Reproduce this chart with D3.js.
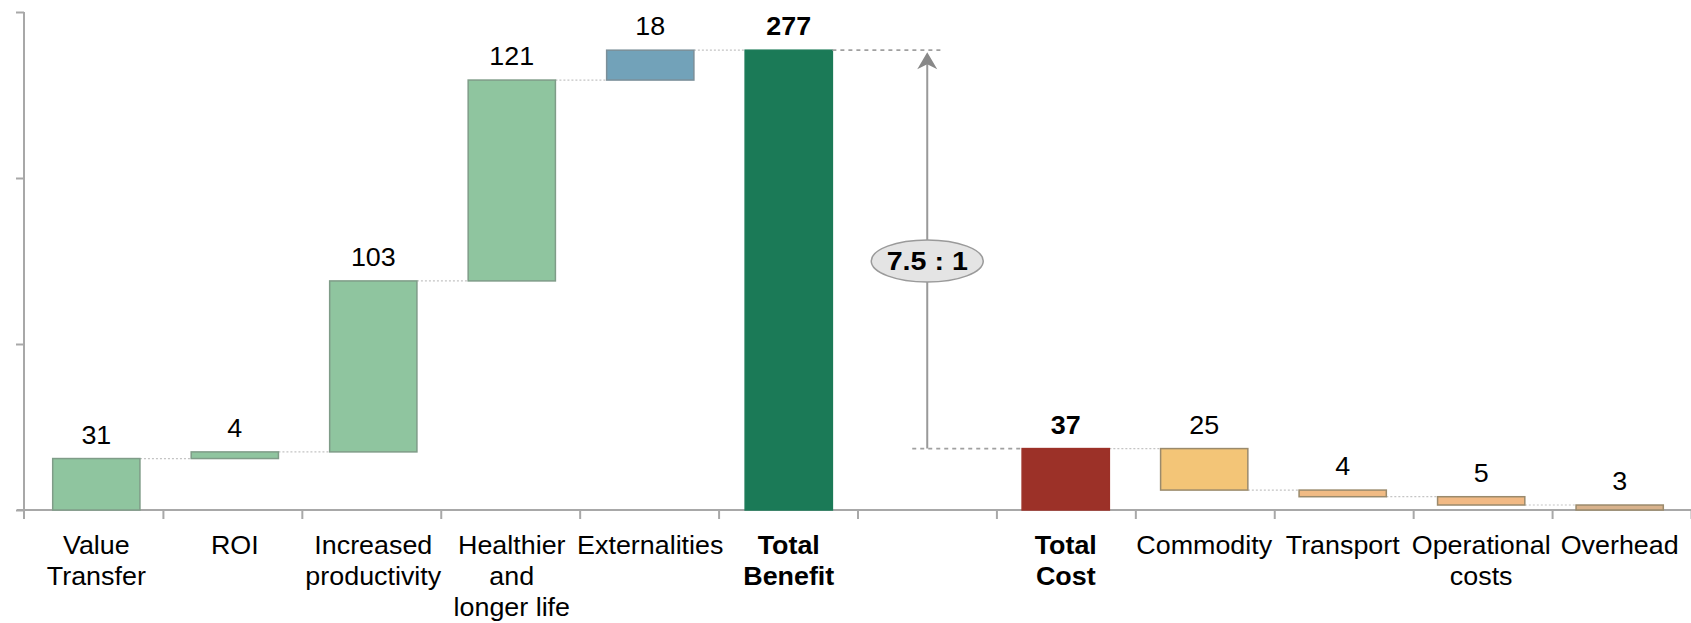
<!DOCTYPE html>
<html>
<head>
<meta charset="utf-8">
<script src="https://cdn.jsdelivr.net/npm/d3@7"></script>
<style>
  html, body { margin: 0; padding: 0; background: #ffffff; }
  svg { display: block; font-family: "Liberation Sans", Arial, sans-serif; }
</style>
</head>
<body>
<svg id="chart" width="1691" height="623"></svg>
<script>
// Cost-benefit waterfall: benefits build up to a total, costs step down from theirs.
const categories = [
  ["Value", "Transfer"],
  ["ROI"],
  ["Increased", "productivity"],
  ["Healthier", "and", "longer life"],
  ["Externalities"],
  ["Total", "Benefit"],
  [],
  ["Total", "Cost"],
  ["Commodity"],
  ["Transport"],
  ["Operational", "costs"],
  ["Overhead"]
];
const values = [31, 4, 103, 121, 18, 277, null, 37, 25, 4, 5, 3];
// "up" adds to the running total, "total" stands on the baseline, "down" subtracts
const kinds = ["up", "up", "up", "up", "up", "total", "blank", "total", "down", "down", "down", "down"];
const fills = ["#8fc59f", "#8fc59f", "#8fc59f", "#8fc59f", "#72a2b9", "#1b7a57", null,
               "#9c3128", "#f3c577", "#f1bb84", "#f1b984", "#d8b28c"];
const strokes = ["#7f9c88", "#7f9c88", "#7f9c88", "#7f9c88", "#7b8f99", "#1b7a57", null,
                 "#9c3128", "#9a8a6c", "#9a8a6c", "#9a8a6c", "#9a8a6c"];
const yTicks = [0, 100, 200, 300];
const ratioLevel = 150;

const svg = d3.select("#chart");
const W = 1691, baseY = 510;
const stretch = 1.075; // slightly wide lettering

// running totals -> floating segments
let run = 0;
const bars = values.map((v, i) => {
  const k = kinds[i];
  let lo = null, hi = null;
  if (k === "up") { lo = run; hi = run + v; run = hi; }
  else if (k === "total") { lo = 0; hi = v; run = v; }
  else if (k === "down") { hi = run; lo = run - v; run = lo; }
  return { i, key: "c" + i, v, k, lo, hi, label: categories[i] };
});

const x = d3.scaleBand()
  .domain(bars.map(d => d.key))
  .range([25, W])
  .paddingInner(0.37)
  .paddingOuter(0.2);
const slot = d3.scaleLinear().domain([0, bars.length]).range([24, W]);
const y = d3.scaleLinear().domain([0, 300]).range([baseY, 12]);
const cx = d => x(d.key) + x.bandwidth() / 2;

const axisColor = "#a8a8a8";

// y axis (unlabelled ticks)
const gy = svg.append("g")
  .attr("transform", "translate(24,0)")
  .call(d3.axisLeft(y).tickValues(yTicks).tickFormat("").tickSize(8).tickSizeOuter(0));
gy.selectAll("path, line").attr("stroke", axisColor).attr("stroke-width", 2);
gy.select(".domain").attr("d", `M0,${y(300)}V${baseY + 9}`);

// x axis with ticks on slot boundaries
const gx = svg.append("g")
  .attr("transform", `translate(0,${baseY})`)
  .call(d3.axisBottom(slot).tickValues(d3.range(1, bars.length + 1)).tickFormat("").tickSize(9).tickSizeOuter(0));
gx.selectAll("path, line").attr("stroke", axisColor).attr("stroke-width", 2);
gx.select(".domain").attr("d", `M17,0H${W}`);

const drawn = bars.filter(d => d.k !== "blank");

// connectors between neighbouring bars
const links = [];
for (let j = 0; j < bars.length - 1; j++) {
  const a = bars[j], b = bars[j + 1];
  if (a.k === "blank" || b.k === "blank") continue;
  const level = (a.k === "down") ? a.lo : a.hi;
  links.push({ x1: x(a.key) + x.bandwidth(), x2: x(b.key), level });
}
svg.append("g").selectAll("line").data(links).join("line")
  .attr("x1", d => d.x1).attr("x2", d => d.x2)
  .attr("y1", d => y(d.level)).attr("y2", d => y(d.level))
  .attr("stroke", "#c4c4c4").attr("stroke-width", 1.2)
  .attr("stroke-dasharray", "2,2");

// bars
svg.append("g").selectAll("rect").data(drawn).join("rect")
  .attr("x", d => x(d.key))
  .attr("width", x.bandwidth())
  .attr("y", d => y(d.hi))
  .attr("height", d => Math.max(1, y(d.lo) - y(d.hi)))
  .attr("fill", d => fills[d.i])
  .attr("stroke", d => strokes[d.i])
  .attr("stroke-width", 1.5);

// value labels
svg.append("g").selectAll("text").data(drawn).join("text")
  .attr("transform", d => `translate(${cx(d)},${y(d.hi) - 15}) scale(${stretch},1)`)
  .attr("text-anchor", "middle")
  .attr("font-size", 25)
  .attr("font-weight", d => d.k === "total" ? "bold" : "normal")
  .attr("fill", "#000")
  .text(d => d.v);

// category labels
const cat = svg.append("g").selectAll("text").data(bars).join("text")
  .attr("transform", d => `translate(${cx(d)},554) scale(${stretch},1)`)
  .attr("text-anchor", "middle")
  .attr("font-size", 25)
  .attr("font-weight", d => d.k === "total" ? "bold" : "normal")
  .attr("fill", "#000");
cat.selectAll("tspan").data(d => d.label)
  .join("tspan")
  .attr("x", 0)
  .attr("y", (t, k) => k * 31)
  .text(t => t);

// ratio annotation between the two totals
const benefit = bars.find(d => d.k === "total");
const cost = bars.filter(d => d.k === "total")[1];
const gap = bars.find(d => d.k === "blank");
const ax = cx(gap);

const ann = svg.append("g");
ann.append("line")
  .attr("x1", x(benefit.key) + x.bandwidth()).attr("x2", ax + 15)
  .attr("y1", y(benefit.hi)).attr("y2", y(benefit.hi))
  .attr("stroke", "#a0a0a0").attr("stroke-width", 1.8).attr("stroke-dasharray", "4,4");
ann.append("line")
  .attr("x1", ax - 15).attr("x2", x(cost.key))
  .attr("y1", y(cost.hi)).attr("y2", y(cost.hi))
  .attr("stroke", "#a0a0a0").attr("stroke-width", 1.8).attr("stroke-dasharray", "4,4");
ann.append("line")
  .attr("x1", ax).attr("x2", ax)
  .attr("y1", y(cost.hi)).attr("y2", y(benefit.hi) + 12)
  .attr("stroke", "#999").attr("stroke-width", 2);
const tipY = y(benefit.hi) + 2;
ann.append("path")
  .attr("d", `M${ax},${tipY} L${ax - 10},${tipY + 17} L${ax},${tipY + 12} L${ax + 10},${tipY + 17} Z`)
  .attr("fill", "#888");
ann.append("ellipse")
  .attr("cx", ax).attr("cy", y(ratioLevel))
  .attr("rx", 56).attr("ry", 21)
  .attr("fill", "#e4e4e4").attr("stroke", "#9a9a9a").attr("stroke-width", 1.5);
ann.append("text")
  .attr("transform", `translate(${ax},${y(ratioLevel) + 9}) scale(1.1,1)`)
  .attr("text-anchor", "middle")
  .attr("font-size", 26).attr("font-weight", "bold")
  .text(`${(benefit.v / cost.v).toFixed(1)} : 1`);
</script>
</body>
</html>
